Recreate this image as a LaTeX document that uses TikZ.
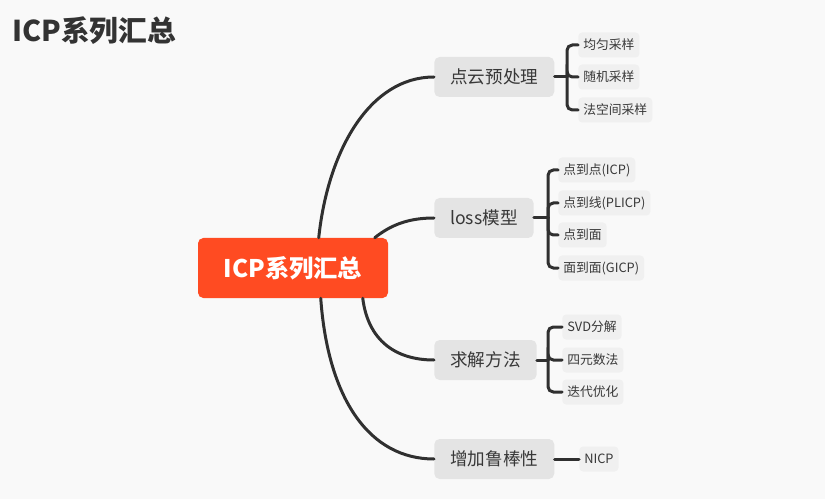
\documentclass[tikz,border=0pt]{standalone}
\usepackage{fontspec}
\setmainfont{Noto Sans CJK SC}
\usetikzlibrary{calc}
\definecolor{bggray}{HTML}{F9F9F9}
\definecolor{rootred}{HTML}{FF4B22}
\definecolor{topicgray}{HTML}{E4E4E4}
\definecolor{leafgray}{HTML}{F0F0F0}
\definecolor{textgray}{HTML}{383838}
\definecolor{titlegray}{HTML}{333333}
\definecolor{linkgray}{HTML}{303030}
\begin{document}
\begin{tikzpicture}[x=0.75pt,y=-0.75pt,
  link/.style={draw=linkgray, line width=2.25pt, line cap=round},
  rootbox/.style={fill=rootred, text=white, rounded corners=4pt,
    minimum width=142.5pt, minimum height=45pt, inner sep=0pt,
    font=\fontsize{18.2}{21}\selectfont\bfseries},
  topicbox/.style={fill=topicgray, text=textgray, rounded corners=4pt,
    minimum height=30pt, inner xsep=12pt, inner ysep=0pt, anchor=west,
    font=\fontsize{13.2}{16}\selectfont},
  leafbox/.style={fill=leafgray, text=textgray, rounded corners=3pt,
    minimum height=18.75pt, inner xsep=3.75pt, inner ysep=0pt, anchor=west,
    font=\fontsize{9.6}{11}\selectfont},
]
% canvas
\fill[bggray] (0,0) rectangle (825,499);
\useasboundingbox (0,0) rectangle (825,499);

% heading
\node[anchor=west, inner sep=0pt, text=titlegray,
  font=\fontsize{21.5}{25}\selectfont\bfseries] (title) at (12,31) {ICP系列汇总};

% central topic
\node[rootbox] (root) at (293,268) {ICP系列汇总};

% main branches
\node[topicbox] (pre)   at (434,77)  {点云预处理};
\node[topicbox] (loss)  at (434,218) {loss模型};
\node[topicbox] (solve) at (434,360) {求解方法};
\node[topicbox] (rob)   at (434,459) {增加鲁棒性};

% leaves: preprocessing
\node[leafbox] (p1) at (578,45)  {均匀采样};
\node[leafbox] (p2) at (578,77)  {随机采样};
\node[leafbox] (p3) at (578,110) {法空间采样};
% leaves: loss models
\node[leafbox] (l1) at (558,170) {点到点(ICP)};
\node[leafbox] (l2) at (558,203) {点到线(PLICP)};
\node[leafbox] (l3) at (558,235) {点到面};
\node[leafbox] (l4) at (558,268) {面到面(GICP)};
% leaves: solvers
\node[leafbox] (s1) at (562,327) {SVD分解};
\node[leafbox] (s2) at (562,360) {四元数法};
\node[leafbox] (s3) at (562,392) {迭代优化};
% leaf: robustness
\node[leafbox] (r1) at (579,459) {NICP};

% curved links from the central topic
\coordinate (rt1) at ($(root.north west)+(121,0)$);
\coordinate (rt2) at ($(root.north west)+(177,0)$);
\coordinate (rb1) at ($(root.south west)+(165,0)$);
\coordinate (rb2) at ($(root.south west)+(123,0)$);
\draw[link] (rt1) .. controls (328,150) and (370,77) .. (pre.west);
\draw[link] (rt2) .. controls (392,224) and (410,218) .. (loss.west);
\draw[link] (rb1) .. controls (368,340) and (395,360) .. (solve.west);
\draw[link] (rb2) .. controls (328,400) and (370,459) .. (rob.west);

% bracket joints
\coordinate (jp) at (567,77);
\coordinate (jl) at (548,218);
\coordinate (js) at (548,360);
\draw[link] (pre.east) -- (jp);
\draw[link] (loss.east) -- (jl);
\draw[link] (solve.east) -- (js);
\foreach \c in {p1,p2,p3} \draw[link, rounded corners=4pt] (jp) |- (\c.west);
\foreach \c in {l1,l2,l3,l4} \draw[link, rounded corners=4pt] (jl) |- (\c.west);
\foreach \c in {s1,s2,s3} \draw[link, rounded corners=4pt] (js) |- (\c.west);
\draw[link] (rob.east) -- (r1.west);
\end{tikzpicture}
\end{document}
